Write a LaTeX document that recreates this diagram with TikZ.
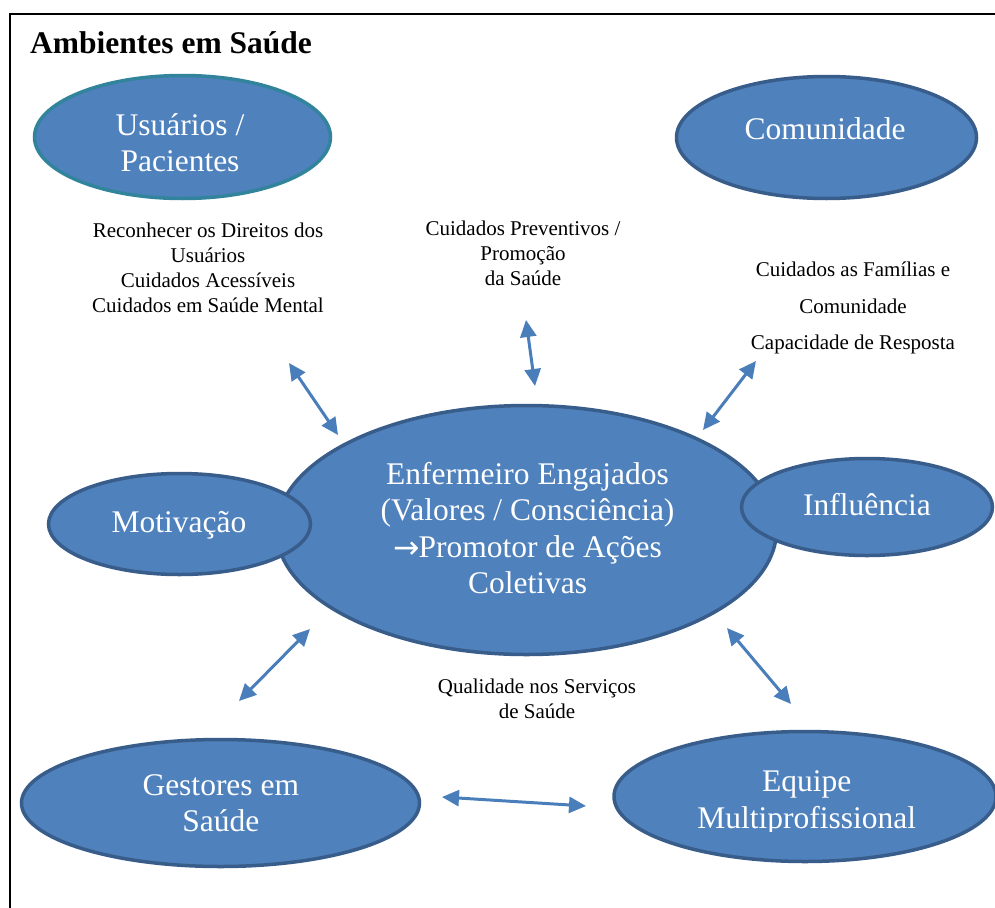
\documentclass[tikz,border=0pt]{standalone}
\usepackage{fontspec}
\setmainfont{Liberation Serif}
\newfontfamily\arrfont{DejaVu Sans}
\usetikzlibrary{shapes.geometric,arrows.meta}
\definecolor{ellfill}{HTML}{4F81BD}
\definecolor{ellline}{HTML}{385D8A}
\definecolor{tealline}{HTML}{31849B}
\definecolor{arrblue}{HTML}{4A7EBB}
\begin{document}
\begin{tikzpicture}[x=1pt,y=-1pt,
  ell/.style={ellipse, draw=ellline, line width=3.5pt, fill=ellfill, inner sep=0pt},
  big/.style={text=white, align=center, inner sep=0pt, font=\fontsize{31.5}{36.5}\selectfont},
  small/.style={text=black, align=center, inner sep=0pt, font=\fontsize{21}{25}\selectfont},
  dbl/.style={{Triangle[length=17pt,width=16pt]}-{Triangle[length=17pt,width=16pt]}, line width=3pt, draw=arrblue}]
\clip (0,0) rectangle (995,907);
\fill[white] (0,0) rectangle (995,907);
\draw[line width=2pt] (9.5,930) -- (9.5,14.5) -- (1010,14.5);
\node[anchor=base west, inner sep=0pt, font=\bfseries\fontsize{31.5}{36}\selectfont] (title) at (30,53) {Ambientes em Saúde};

% ellipses
\node[ell, draw=tealline, minimum width=296pt, minimum height=123pt] (usu) at (182.5,137) {};
\node[ell, minimum width=300pt, minimum height=122pt] (com) at (826.5,137.5) {};
\node[ell, minimum width=500pt, minimum height=249pt] (enf) at (526.5,530) {};
\node[ell, minimum width=262pt, minimum height=101pt] (mot) at (179.5,524) {};
\node[ell, minimum width=251pt, minimum height=97pt] (inf) at (867,507) {};
\node[ell, minimum width=398pt, minimum height=127pt] (ges) at (220.5,803) {};
\node[ell, minimum width=382pt, minimum height=130pt] (equ) at (805,796.5) {};

% ellipse texts
\node[big] (usuT) at (180,142.5) {Usuários /\\Pacientes};
\node[big] (comT) at (825,129) {Comunidade};
\node[big] (enfT) at (527.5,528) {Enfermeiro Engajados\\(Valores / Consciência)\\{\arrfont\raisebox{-1pt}{→}}\kern-1pt Promotor de Ações\\Coletivas};
\node[big] (motT) at (179,525) {Motivação};
\node[big] (infT) at (867,505) {Influência};
\node[big] (gesT) at (220.8,803) {Gestores em\\Saúde};
\begin{scope}
\clip (0,0) rectangle (995,831);
\node[big] (equT) at (806.7,803) {Equipe\\Multiprofissional};
\end{scope}

% small texts
\node[small] (t1) at (208,267.5) {Reconhecer os Direitos dos\\Usuários\\Cuidados Acessíveis\\Cuidados em Saúde Mental};
\node[small] (t2) at (523,253) {Cuidados Preventivos /\\Promoção\\da Saúde};
\node[small, font=\fontsize{21}{36.5}\selectfont] (t3) at (853,308) {Cuidados as Famílias e\\Comunidade\\Capacidade de Resposta};
\node[small] (t4) at (537,699) {Qualidade nos Serviços\\de Saúde};

% arrows
\coordinate (a1s) at (289,363); \coordinate (a1e) at (338,435);
\coordinate (a2s) at (526,320); \coordinate (a2e) at (535,386);
\coordinate (a3s) at (756,361); \coordinate (a3e) at (703,430);
\coordinate (a4s) at (310,629); \coordinate (a4e) at (239,701);
\coordinate (a5s) at (727,628); \coordinate (a5e) at (791,704);
\coordinate (a6s) at (442,797); \coordinate (a6e) at (586,806);
\draw[dbl] (a1s) -- (a1e);
\draw[dbl] (a2s) -- (a2e);
\draw[dbl] (a3s) -- (a3e);
\draw[dbl] (a4s) -- (a4e);
\draw[dbl] (a5s) -- (a5e);
\draw[dbl] (a6s) -- (a6e);
\end{tikzpicture}
\end{document}
